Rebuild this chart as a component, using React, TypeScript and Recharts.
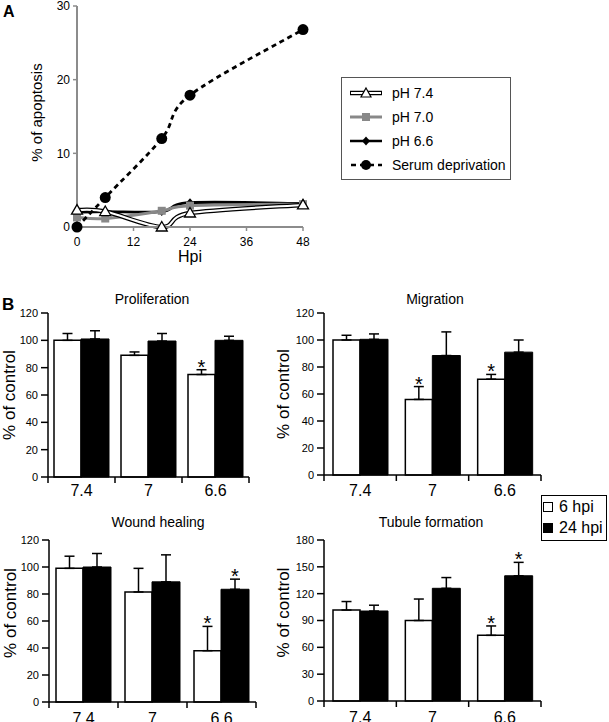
import React from 'react';
import { LineChart, Line, XAxis, YAxis, Legend, BarChart, Bar, ErrorBar, LabelList } from 'recharts';

const FONT = '"Liberation Sans", Arial, Helvetica, sans-serif';

// panel A: % apoptosis over time
const hpi = [0, 6, 18, 24, 48];
const ph74 = [2.3, 2.1, 0, 1.9, 3.0];
const ph70 = [1.3, 1.15, 2.2, 2.9, 3.1];
const ph66 = [2.0, 2.1, 2.1, 3.3, 3.2];
const serum = [0, 4, 12, 17.9, 26.8];
const hpiTicks = [0, 12, 24, 36, 48];
const apoTicks = [0, 10, 20, 30];
const seriesA = ['pH 7.4', 'pH 7.0', 'pH 6.6', 'Serum deprivation'];

// panel B: % of control, 6 hpi vs 24 hpi
const phCats = ['7.4', '7', '6.6'];
const ticks120 = [0, 20, 40, 60, 80, 100, 120];
const ticks180 = [0, 30, 60, 90, 120, 150, 180];

const prolif6 = [100, 89, 75];
const prolif6Err = [5, 2.5, 3.5];
const prolif24 = [101, 99.5, 100];
const prolif24Err = [6, 5.5, 3];
const prolifSig6 = [false, false, true];
const prolifSig24 = [false, false, false];

const migr6 = [100, 56, 71];
const migr6Err = [3.5, 9.5, 3.5];
const migr24 = [100.5, 88.5, 91];
const migr24Err = [4, 17.5, 9];
const migrSig6 = [false, true, true];
const migrSig24 = [false, false, false];

const wound6 = [99, 81.5, 38];
const wound6Err = [9, 17.5, 18];
const wound24 = [100, 89, 83.5];
const wound24Err = [10, 20, 7.5];
const woundSig6 = [false, false, true];
const woundSig24 = [false, false, true];

const tub6 = [101.7, 90, 73.4];
const tub6Err = [9.5, 24, 10.5];
const tub24 = [100.6, 126, 140];
const tub24Err = [6.5, 12, 15];
const tubSig6 = [false, false, true];
const tubSig24 = [false, false, true];

const dataA = hpi.map((h, i) => ({ h, ph74: ph74[i], ph70: ph70[i], ph66: ph66[i], serum: serum[i] }));

// spreadsheet-style smoothed line (catmull-rom through the points)
const smooth = (ctx: any) => {
  let pts: number[][] = [];
  return {
    areaStart() {},
    areaEnd() {},
    lineStart() { pts = []; },
    point(x: number, y: number) { pts.push([+x, +y]); },
    lineEnd() {
      if (!pts.length) return;
      ctx.moveTo(pts[0][0], pts[0][1]);
      for (let i = 0; i < pts.length - 1; i++) {
        const p0 = pts[i - 1] || pts[i], p1 = pts[i], p2 = pts[i + 1], p3 = pts[i + 2] || pts[i + 1];
        ctx.bezierCurveTo(
          p1[0] + (p2[0] - p0[0]) / 6, p1[1] + (p2[1] - p0[1]) / 6,
          p2[0] - (p3[0] - p1[0]) / 6, p2[1] - (p3[1] - p1[1]) / 6,
          p2[0], p2[1]);
      }
    },
  };
};

const triDot = (p: any) => (
  <path key={`t${p.index}`} d={`M${p.cx},${p.cy - 5.5} L${p.cx + 5.5},${p.cy + 4} L${p.cx - 5.5},${p.cy + 4} Z`}
    fill="#fff" stroke="#000" strokeWidth={1.3} />
);
const sqDot = (p: any) => (
  <rect key={`s${p.index}`} x={p.cx - 4} y={p.cy - 4} width={8} height={8} fill="#888" />
);
const diaDot = (p: any) => (
  <path key={`d${p.index}`} d={`M${p.cx},${p.cy - 4.5} L${p.cx + 4},${p.cy} L${p.cx},${p.cy + 4.5} L${p.cx - 4},${p.cy} Z`} fill="#000" />
);
const circDot = (p: any) => <circle key={`c${p.index}`} cx={p.cx} cy={p.cy} r={5.5} fill="#000" />;

const vLabel = (text: string, cx: number, dy: number, size: number) => (p: any) => {
  const vb = p.viewBox || {};
  const cy = vb.y + vb.height / 2 + dy;
  return (
    <text x={cx} y={cy} transform={`rotate(-90 ${cx} ${cy})`} textAnchor="middle" dominantBaseline="central"
      fontSize={size} fill="#000" fontFamily={FONT}>{text}</text>
  );
};

const hLabel = (text: string, dy: number) => (p: any) => {
  const vb = p.viewBox || {};
  return (
    <text x={vb.x + vb.width / 2} y={vb.y + dy} textAnchor="middle" fontSize={16} fill="#000" fontFamily={FONT}>{text}</text>
  );
};

const legendIcon = (i: number) => {
  if (i === 0) return (
    <svg width={32} height={14}>
      <line x1={0} x2={32} y1={7} y2={7} stroke="#000" strokeWidth={4.5} />
      <line x1={1} x2={31} y1={7} y2={7} stroke="#fff" strokeWidth={2} />
      <path d="M16,2 L21,11 L11,11 Z" fill="#fff" stroke="#000" strokeWidth={1.2} />
    </svg>
  );
  if (i === 1) return (
    <svg width={32} height={14}>
      <line x1={0} x2={32} y1={7} y2={7} stroke="#888" strokeWidth={3} />
      <rect x={12} y={3} width={8} height={8} fill="#888" />
    </svg>
  );
  if (i === 2) return (
    <svg width={32} height={14}>
      <line x1={0} x2={32} y1={7} y2={7} stroke="#000" strokeWidth={2.5} />
      <path d="M16,2.5 L20,7 L16,11.5 L12,7 Z" fill="#000" />
    </svg>
  );
  return (
    <svg width={32} height={14}>
      <line x1={1} x2={32} y1={7} y2={7} stroke="#000" strokeWidth={2.5} strokeDasharray="5 4" />
      <circle cx={16} cy={7} r={5} fill="#000" />
    </svg>
  );
};

const legendA = () => (
  <div style={{ width: 170, height: 103, border: '1px solid #555', boxSizing: 'border-box', background: '#fff',
    padding: '3px 0 0 8px', fontSize: 14, fontFamily: FONT, color: '#000' }}>
    {seriesA.map((s, i) => (
      <div key={s} style={{ display: 'flex', alignItems: 'center', height: 24 }}>
        {legendIcon(i)}
        <span style={{ marginLeft: 10 }}>{s}</span>
      </div>
    ))}
  </div>
);

const legendB = () => (
  <div style={{ width: 66, height: 46, border: '1px solid #000', boxSizing: 'border-box', background: '#fff',
    paddingLeft: 1, fontSize: 16, fontFamily: FONT, color: '#000' }}>
    {['6 hpi', '24 hpi'].map((s, i) => (
      <div key={s} style={{ display: 'flex', alignItems: 'center', height: 21 }}>
        <span style={{ width: 8, height: 8, border: '1px solid #000', background: i ? '#000' : '#fff', display: 'inline-block' }} />
        <span style={{ marginLeft: 6 }}>{s}</span>
      </div>
    ))}
  </div>
);

const catTick = (band: number, dy: number) => (p: any) => {
  const { x, y, payload, index } = p;
  return (
    <g>
      <text x={x} y={y + dy} textAnchor="middle" fontSize={16} fill="#000" fontFamily={FONT}>{payload.value}</text>
      {index === 0 && <line x1={x - band / 2} x2={x - band / 2} y1={y} y2={y + 6} stroke="#000" strokeWidth={1.5} />}
      <line x1={x + band / 2} x2={x + band / 2} y1={y} y2={y + 6} stroke="#000" strokeWidth={1.5} />
    </g>
  );
};

const star = (rows: any[], vKey: string, eKey: string, sKey: string) => (p: any) => {
  let i = rows.findIndex((r) => r.cat === p.value);
  if (i < 0 && typeof p.index === 'number') i = p.index;
  const r = rows[i];
  if (!r || !r[sKey]) return null;
  const vb = p.viewBox || p;
  const top = Math.min(vb.y, vb.y + vb.height);
  const h = Math.abs(vb.height);
  const capY = top - (h / r[vKey]) * r[eKey][1];
  return (
    <text key={`${sKey}${i}`} x={vb.x + vb.width / 2} y={capY + 4} textAnchor="middle" fontSize={20} fill="#000" fontFamily={FONT}>*</text>
  );
};

type PanelProps = {
  left: number; top: number; width: number; height: number; yw: number; mTop: number; mRight: number; xh: number;
  title: string; titleX: number; titleY: number; yMax: number; yTicks: number[];
  v6: number[]; e6: number[]; v24: number[]; e24: number[]; s6: boolean[]; s24: boolean[];
  labX: number; labDy: number; catDy: number; legend?: boolean;
};

function BarPanel(p: PanelProps) {
  const rows = phCats.map((c, i) => ({
    cat: c, h6: p.v6[i], h24: p.v24[i], err6: [0, p.e6[i]], err24: [0, p.e24[i]], sig6: p.s6[i], sig24: p.s24[i],
  }));
  const band = (p.width - p.yw - p.mRight) / 3;
  return (
    <>
      <div style={{ position: 'absolute', left: p.titleX - 100, width: 200, top: p.titleY - 9, textAlign: 'center',
        fontSize: 14, lineHeight: '18px', fontFamily: FONT }}>{p.title}</div>
      <div style={{ position: 'absolute', left: p.left, top: p.top }}>
        <BarChart width={p.width} height={p.height} data={rows} barGap={0}
          margin={{ top: p.mTop, right: p.mRight, left: 0, bottom: 0 }}>
          <XAxis dataKey="cat" height={p.xh} tickSize={0} tickMargin={0} tickLine={false} interval={0}
            axisLine={{ stroke: '#000', strokeWidth: 1.5 }} tick={catTick(band, p.catDy)} />
          <YAxis width={p.yw} domain={[0, p.yMax]} ticks={p.yTicks} interval={0} tickSize={7} tickMargin={3}
            axisLine={{ stroke: '#000', strokeWidth: 1.5 }} tickLine={{ stroke: '#000', strokeWidth: 1.5 }}
            tick={{ fontSize: 11, fill: '#000', fontFamily: FONT }}
            label={vLabel('% of control', p.labX, p.labDy, 17)} />
          {p.legend && (
            <Legend layout="horizontal" verticalAlign="middle" align="center" content={legendB}
              wrapperStyle={{ position: 'absolute', left: 271, top: -22, width: 66 }} />
          )}
          <Bar dataKey="h6" name="6 hpi" fill="#fff" stroke="#000" strokeWidth={1.5} barSize={27} isAnimationActive={false}>
            <ErrorBar dataKey="err6" direction="y" width={5} stroke="#000" strokeWidth={1.5} />
            <LabelList dataKey="cat" content={star(rows, 'h6', 'err6', 'sig6')} />
          </Bar>
          <Bar dataKey="h24" name="24 hpi" fill="#000" stroke="#000" strokeWidth={1} barSize={28} isAnimationActive={false}>
            <ErrorBar dataKey="err24" direction="y" width={5} stroke="#000" strokeWidth={1.5} />
            <LabelList dataKey="cat" content={star(rows, 'h24', 'err24', 'sig24')} />
          </Bar>
        </BarChart>
      </div>
    </>
  );
}

export default function App() {
  return (
    <div style={{ position: 'absolute', left: 0, top: 0, width: 609, height: 722, background: '#fff', fontFamily: FONT, color: '#000' }}>
      <div style={{ position: 'absolute', left: 3, top: 3, fontSize: 16, fontWeight: 'bold' }}>A</div>
      <div style={{ position: 'absolute', left: 2, top: 295, fontSize: 17, fontWeight: 'bold' }}>B</div>

      <div style={{ position: 'absolute', left: 0, top: 0 }}>
        <LineChart width={609} height={270} data={dataA} margin={{ top: 6, right: 306, left: 0, bottom: 3 }}>
          <XAxis dataKey="h" type="number" domain={[0, 48]} ticks={hpiTicks} interval={0} height={40}
            tickSize={4} tickMargin={6} axisLine={{ stroke: '#8c8c8c', strokeWidth: 2 }}
            tickLine={{ stroke: '#8c8c8c', strokeWidth: 1.5 }} tick={{ fontSize: 12, fill: '#000', fontFamily: FONT }}
            label={hLabel('Hpi', 35)} />
          <YAxis type="number" domain={[0, 30]} ticks={apoTicks} interval={0} width={77}
            tickSize={4} tickMargin={3} axisLine={{ stroke: '#8c8c8c', strokeWidth: 2 }}
            tickLine={{ stroke: '#8c8c8c', strokeWidth: 1.5 }} tick={{ fontSize: 12, fill: '#000', fontFamily: FONT }}
            label={vLabel('% of apoptosis', 36, -4, 15)} />
          <Legend layout="horizontal" verticalAlign="middle" align="center" content={legendA}
            wrapperStyle={{ position: 'absolute', left: 341, top: 77, width: 170 }} />
          <Line type={smooth as any} dataKey="ph66" name="pH 6.6" stroke="#000" strokeWidth={2.8} dot={diaDot} isAnimationActive={false} />
          <Line type={smooth as any} dataKey="ph70" name="pH 7.0" stroke="#888" strokeWidth={3} dot={sqDot} isAnimationActive={false} />
          <Line type={smooth as any} dataKey="ph74" name="pH 7.4 outline" stroke="#000" strokeWidth={4.5} dot={false} legendType="none" isAnimationActive={false} />
          <Line type={smooth as any} dataKey="ph74" name="pH 7.4" stroke="#fff" strokeWidth={2} dot={triDot} isAnimationActive={false} />
          <Line type={smooth as any} dataKey="serum" name="Serum deprivation" stroke="#000" strokeWidth={2.8} strokeDasharray="5 4"
            dot={circDot} isAnimationActive={false} />
        </LineChart>
      </div>

      <BarPanel left={0} top={290} width={270} height={220} yw={48} mTop={23} mRight={21} xh={33}
        title="Proliferation" titleX={152} titleY={299} yMax={120} yTicks={ticks120}
        v6={prolif6} e6={prolif6Err} v24={prolif24} e24={prolif24Err} s6={prolifSig6} s24={prolifSig24}
        labX={9} labDy={0} catDy={19} />
      <BarPanel left={270} top={290} width={290} height={220} yw={54} mTop={23} mRight={19} xh={35}
        title="Migration" titleX={435} titleY={299} yMax={120} yTicks={ticks120}
        v6={migr6} e6={migr6Err} v24={migr24} e24={migr24Err} s6={migrSig6} s24={migrSig24}
        labX={13} labDy={0} catDy={21} />
      <BarPanel left={0} top={517} width={270} height={205} yw={49} mTop={23} mRight={14} xh={20}
        title="Wound healing" titleX={158} titleY={522} yMax={120} yTicks={ticks120}
        v6={wound6} e6={wound6Err} v24={wound24} e24={wound24Err} s6={woundSig6} s24={woundSig24}
        labX={10} labDy={-8} catDy={22} />
      <BarPanel left={270} top={517} width={290} height={205} yw={54} mTop={23} mRight={19} xh={21}
        title="Tubule formation" titleX={431} titleY={522} yMax={180} yTicks={ticks180}
        v6={tub6} e6={tub6Err} v24={tub24} e24={tub24Err} s6={tubSig6} s24={tubSig24}
        labX={13} labDy={-8} catDy={22} legend />
    </div>
  );
}
